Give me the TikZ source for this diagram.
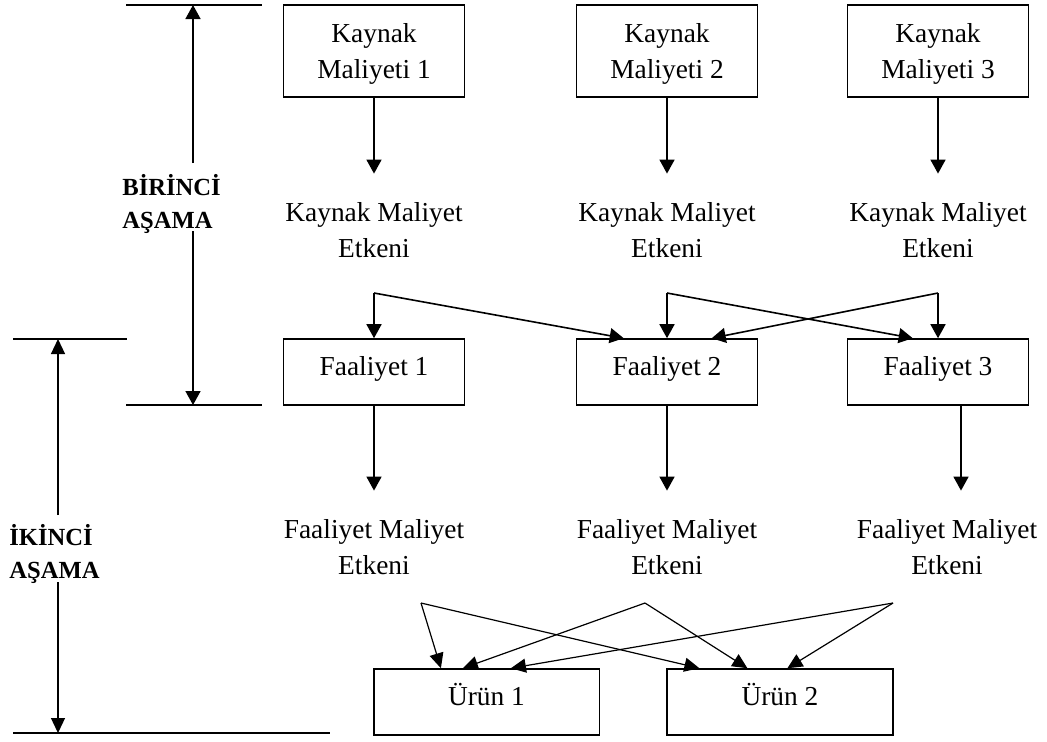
\documentclass[tikz,border=0pt]{standalone}
\usepackage{fontspec}
\setmainfont{Liberation Serif}
\usetikzlibrary{arrows.meta}
\begin{document}
\begin{tikzpicture}[x=0.5pt,y=-0.5pt,
  tx/.style={font=\fontsize{13.7}{18}\selectfont},
  kbox/.style={draw, line width=0.8pt, minimum width=90.5pt, minimum height=46pt,
    inner sep=0pt, align=center, text height=30pt, text depth=3pt, tx},
  fbox/.style={draw, line width=0.8pt, minimum width=90.5pt, minimum height=33pt,
    inner sep=0pt, text height=8pt, text depth=5pt, tx},
  ubox/.style={fbox, minimum width=112.8pt},
  lbl/.style={inner sep=0pt, align=center, anchor=base, tx},
  stage/.style={inner sep=0pt, align=left, anchor=base west,
    font=\fontsize{12.3}{16.5}\selectfont\bfseries},
  arr/.style={-{Triangle[length=7pt,width=7.5pt]}, line width=0.8pt},
  arrthin/.style={-{Triangle[length=7.5pt,width=7pt]}, line width=0.6pt},
  rule/.style={line width=0.85pt}]
\useasboundingbox (0,0) rectangle (1047,741);

% resource cost boxes
\node[kbox] (k1) at (374,51) {Kaynak\\Maliyeti 1};
\node[kbox] (k2) at (667,51) {Kaynak\\Maliyeti 2};
\node[kbox] (k3) at (938,51) {Kaynak\\Maliyeti 3};

% resource cost drivers (anchored on the last baseline)
\node[lbl] (ke1) at (374,257) {Kaynak Maliyet\\Etkeni};
\node[lbl] (ke2) at (667,257) {Kaynak Maliyet\\Etkeni};
\node[lbl] (ke3) at (938,257) {Kaynak Maliyet\\Etkeni};

% activities
\node[fbox] (f1) at (374,372) {Faaliyet 1};
\node[fbox] (f2) at (667,372) {Faaliyet 2};
\node[fbox] (f3) at (938,372) {Faaliyet 3};

% activity cost drivers
\node[lbl] (fe1) at (374,574) {Faaliyet Maliyet\\Etkeni};
\node[lbl] (fe2) at (667,574) {Faaliyet Maliyet\\Etkeni};
\node[lbl] (fe3) at (947,574) {Faaliyet Maliyet\\Etkeni};

% products
\node[ubox] (u1) at (486.5,702) {Ürün 1};
\node[ubox] (u2) at (780,702) {Ürün 2};

% boxes to drivers
\draw[arr, shorten >=14pt] (k1) -- (ke1);
\draw[arr, shorten >=14pt] (k2) -- (ke2);
\draw[arr, shorten >=14pt] (k3) -- (ke3);
\draw[arr, shorten >=14pt] (f1) -- (fe1);
\draw[arr, shorten >=14pt] (f2) -- (fe2);
\draw[arr, shorten >=14pt] ([xshift=11.5pt]f3.south) -- ([xshift=11.5pt]f3.south |- fe3.north);

% resource drivers distributed to activities
\coordinate (c1) at (374,293);
\coordinate (c2) at (667,293);
\coordinate (c3) at (938,293);
\draw[arr] (c1) -- (f1);
\draw[arr] (c1) -- ([xshift=24pt]f2.north west);
\draw[arr] (c2) -- (f2);
\draw[arr] (c2) -- ([xshift=33pt]f3.north west);
\draw[arr] (c3) -- (f3);
\draw[arr] (c3) -- ([xshift=68pt]f2.north west);

% activity drivers distributed to products
\coordinate (d1) at (421,603);
\coordinate (d2) at (645,603);
\coordinate (d3) at (893,603);
\draw[arrthin] (d1) -- ([xshift=34pt]u1.north west);
\draw[arrthin] (d2) -- ([xshift=45pt]u1.north west);
\draw[arrthin] (d3) -- ([xshift=69pt]u1.north west);
\draw[arrthin] (d1) -- ([xshift=16.5pt]u2.north west);
\draw[arrthin] (d2) -- ([xshift=40.5pt]u2.north west);
\draw[arrthin] (d3) -- ([xshift=60.5pt]u2.north west);

% stage rules
\coordinate (r1a) at (126,5);   \coordinate (r1b) at (262,5);
\coordinate (r2a) at (126,405); \coordinate (r2b) at (262,405);
\coordinate (r3a) at (13,339);  \coordinate (r3b) at (127,339);
\coordinate (r4a) at (13,733);  \coordinate (r4b) at (330,733);
\draw[rule] (r1a) -- (r1b);
\draw[rule] (r2a) -- (r2b);
\draw[rule] (r3a) -- (r3b);
\draw[rule] (r4a) -- (r4b);

% first stage
\node[stage] (s1) at (122,228) {BİRİNCİ\\AŞAMA};
\coordinate (s1u) at (193,163);
\coordinate (s1d) at (193,231);
\draw[arr] (s1u) -- (s1u |- r1a);
\draw[arr] (s1d) -- (s1d |- r2a);

% second stage
\node[stage] (s2) at (9,578) {İKİNCİ\\AŞAMA};
\coordinate (s2u) at (58,515);
\coordinate (s2d) at (58,582);
\draw[arrthin] (s2u) -- (s2u |- r3a);
\draw[arrthin] (s2d) -- (s2d |- r4a);
\end{tikzpicture}
\end{document}
